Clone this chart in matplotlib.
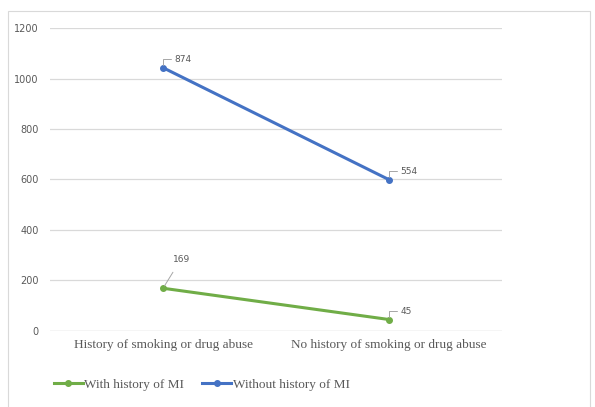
import numpy as np
import matplotlib.pyplot as plt
from matplotlib.patches import Rectangle

categories = ["History of smoking or drug abuse", "No history of smoking or drug abuse"]
with_mi = [169, 45]
without_mi = [874, 554]

green = "#70AD47"
blue = "#4472C4"
grid_c = "#D9D9D9"
text_c = "#595959"

fig = plt.figure(figsize=(5.95, 4.07), dpi=100)
ax = fig.add_axes([0.084, 0.187, 0.76, 0.744])

# stacked line chart: second series sits on top of the first
x = np.array([0.5, 1.5])
bottom = np.array(with_mi)
top = bottom + np.array(without_mi)

ax.plot(x, bottom, color=green, lw=2.2, marker="o", ms=4, label="With history of MI")
ax.plot(x, top, color=blue, lw=2.2, marker="o", ms=4, label="Without history of MI")

ax.set_xlim(0, 2)
ax.set_ylim(0, 1200)
ax.set_yticks(range(0, 1201, 200))
ax.yaxis.grid(True, color=grid_c, lw=0.9)
ax.set_axisbelow(True)
for s in ax.spines.values():
    s.set_visible(False)
ax.axhline(0, color=grid_c, lw=0.9)
ax.tick_params(length=0)
ax.tick_params(axis="y", labelsize=7, labelcolor=text_c, pad=8)
ax.set_xticks(x)
ax.set_xticklabels(categories, fontfamily="Liberation Serif", fontsize=9.5, color=text_c)
ax.tick_params(axis="x", pad=6)

# data labels with short leader hooks
def hook_label(xv, yv, val, dx, dy):
    ax.annotate(str(val), xy=(xv, yv), xytext=(dx, dy), textcoords="offset points",
                fontsize=6.5, color=text_c, va="center",
                arrowprops=dict(arrowstyle="-", color="#A6A6A6", lw=0.7,
                                connectionstyle="angle,angleA=0,angleB=90,rad=0",
                                shrinkA=0, shrinkB=2))

hook_label(x[0], top[0], without_mi[0], 8, 6)
hook_label(x[1], top[1], without_mi[1], 8, 6)
hook_label(x[1], bottom[1], with_mi[1], 8, 6)
ax.annotate(str(with_mi[0]), xy=(x[0], bottom[0]), xytext=(13, 21), textcoords="offset points",
            fontsize=6.5, color=text_c, ha="center", va="center",
            arrowprops=dict(arrowstyle="-", color="#A6A6A6", lw=0.7, shrinkA=5, shrinkB=2))

leg = fig.legend(loc="lower left", bbox_to_anchor=(0.07, 0.01), ncol=2, frameon=False,
                 prop={"family": "Liberation Serif", "size": 9.5}, handlelength=2.2,
                 handletextpad=0.1, columnspacing=1.4, labelcolor=text_c)

# chart frame
fig.patches.append(Rectangle((8 / 595, -0.01), 582 / 595, 1 - 11 / 407 + 0.01,
                             transform=fig.transFigure, fill=False, ec="#D9D9D9", lw=0.8))

fig.savefig("out.png", dpi=100)
